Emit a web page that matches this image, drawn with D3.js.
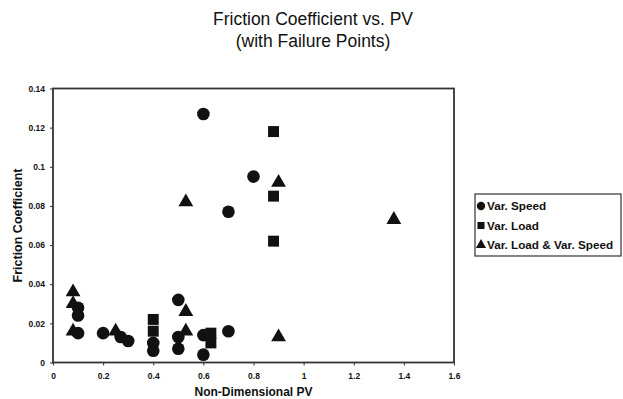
<!DOCTYPE html>
<html>
<head>
<meta charset="utf-8">
<script src="https://cdn.jsdelivr.net/npm/d3@7"></script>
<style>
  body { margin: 0; background: #fff; }
  text { font-family: "Liberation Sans", Arial, sans-serif; fill: #111; }
</style>
</head>
<body>
<div id="chart"></div>
<script>
// values
const speedPts = [
  [0.6, 0.127], [0.8, 0.095], [0.7, 0.077],
  [0.1, 0.028], [0.1, 0.024], [0.1, 0.015], [0.2, 0.015],
  [0.27, 0.013], [0.3, 0.011], [0.4, 0.010], [0.4, 0.006],
  [0.5, 0.032], [0.5, 0.013], [0.5, 0.007],
  [0.6, 0.014], [0.6, 0.004], [0.7, 0.016]
];
const loadPts = [
  [0.88, 0.118], [0.88, 0.085], [0.88, 0.062],
  [0.4, 0.022], [0.4, 0.016], [0.63, 0.015], [0.63, 0.010]
];
const bothPts = [
  [0.08, 0.036], [0.08, 0.030], [0.08, 0.016], [0.25, 0.016],
  [0.53, 0.082], [0.53, 0.026], [0.53, 0.016],
  [0.9, 0.092], [0.9, 0.013], [1.36, 0.073]
];
const xTicks = [0, 0.2, 0.4, 0.6, 0.8, 1, 1.2, 1.4, 1.6];
const yTicks = [0, 0.02, 0.04, 0.06, 0.08, 0.1, 0.12, 0.14];
const legendNames = ["Var. Speed", "Var. Load", "Var. Load & Var. Speed"];

const W = 623, H = 399;
const margin = { top: 88.5, right: 169, bottom: 36.5, left: 53 };
const width = W - margin.left - margin.right;
const height = H - margin.top - margin.bottom;

const svg = d3.select("#chart")
  .append("svg")
  .attr("width", W)
  .attr("height", H);

const g = svg.append("g")
  .attr("transform", `translate(${margin.left},${margin.top})`);

const x = d3.scaleLinear().domain([0, 1.6]).range([0, width]);
const y = d3.scaleLinear().domain([0, 0.14]).range([height, 0]);

const fmt = d => String(+d.toFixed(2));

// title
svg.append("text")
  .attr("x", 313).attr("y", 25)
  .attr("text-anchor", "middle")
  .style("font-size", "17.5px")
  .text("Friction Coefficient vs. PV");
svg.append("text")
  .attr("x", 313).attr("y", 47)
  .attr("text-anchor", "middle")
  .style("font-size", "17.5px")
  .text("(with Failure Points)");

// axes
const xAxis = g.append("g")
  .attr("transform", `translate(0,${height})`)
  .call(d3.axisBottom(x).tickValues(xTicks).tickFormat(fmt).tickSize(3).tickPadding(7));
const yAxis = g.append("g")
  .call(d3.axisLeft(y).tickValues(yTicks).tickFormat(fmt).tickSize(3).tickPadding(5));

[xAxis, yAxis].forEach(a => {
  a.select(".domain").remove();
  a.selectAll("line").attr("stroke", "#333");
  a.selectAll("text")
    .style("font-size", "8.5px")
    .style("font-weight", "bold")
    .attr("fill", "#222");
});

// plot frame
g.append("rect")
  .attr("width", width)
  .attr("height", height)
  .attr("fill", "none")
  .attr("stroke", "#333")
  .attr("stroke-width", 1.8);

// axis titles
svg.append("text")
  .attr("x", margin.left + x(0.8))
  .attr("y", 396)
  .attr("text-anchor", "middle")
  .style("font-size", "12px")
  .style("font-weight", "bold")
  .text("Non-Dimensional PV");

svg.append("text")
  .attr("transform", `translate(22,${margin.top + y(0.07)}) rotate(-90)`)
  .attr("text-anchor", "middle")
  .style("font-size", "12.5px")
  .style("font-weight", "bold")
  .text("Friction Coefficient");

// markers
const circle = d3.symbol().type(d3.symbolCircle).size(125);
const square = d3.symbol().type(d3.symbolSquare).size(120);
const triangle = d3.symbol().type(d3.symbolTriangle).size(95);

g.selectAll(".speed")
  .data(speedPts)
  .join("path")
  .attr("class", "speed")
  .attr("d", circle)
  .attr("transform", d => `translate(${x(d[0])},${y(d[1])})`)
  .attr("fill", "#111");

g.selectAll(".load")
  .data(loadPts)
  .join("path")
  .attr("class", "load")
  .attr("d", square)
  .attr("transform", d => `translate(${x(d[0])},${y(d[1])})`)
  .attr("fill", "#111");

g.selectAll(".both")
  .data(bothPts)
  .join("path")
  .attr("class", "both")
  .attr("d", triangle)
  .attr("transform", d => `translate(${x(d[0])},${y(d[1])})`)
  .attr("fill", "#111");

// legend
const legend = svg.append("g").attr("transform", "translate(475,194)");
legend.append("rect")
  .attr("width", 146)
  .attr("height", 62)
  .attr("fill", "#fff")
  .attr("stroke", "#333")
  .attr("stroke-width", 1.2);

const legendSyms = [
  d3.symbol().type(d3.symbolCircle).size(55),
  d3.symbol().type(d3.symbolSquare).size(50),
  d3.symbol().type(d3.symbolTriangle).size(45)
];

legendNames.forEach((name, i) => {
  const row = legend.append("g").attr("transform", `translate(6,${12 + i * 19.5})`);
  row.append("path").attr("d", legendSyms[i]).attr("fill", "#111");
  row.append("text")
    .attr("x", 6)
    .attr("y", 4)
    .style("font-size", "11.7px")
    .style("font-weight", "bold")
    .text(name);
});
</script>
</body>
</html>
